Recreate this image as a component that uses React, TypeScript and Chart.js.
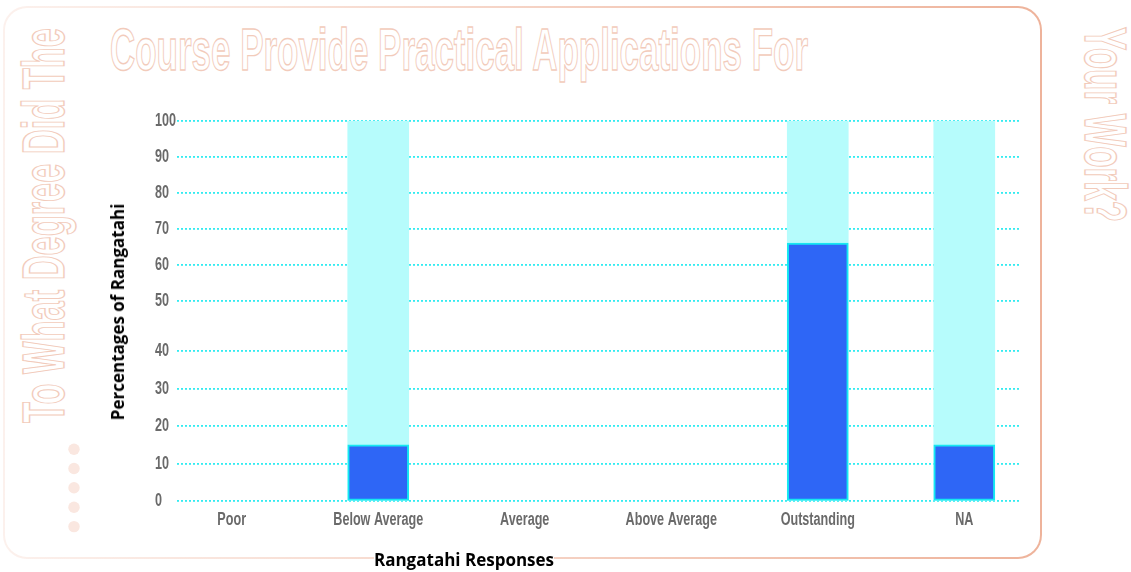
import React, { useEffect, useRef } from 'react';
import { Chart, registerables, LinearScale } from 'chart.js';
import { renderText } from 'chart.js/helpers';

// ---- data ----
const categories = ['Poor', 'Below Average', 'Average', 'Above Average', 'Outstanding', 'NA'];
const responsePercentages: (number | null)[] = [null, 15, null, null, 66, 15];
const trackValues: (number | null)[] = [null, 100, null, null, 100, 100];
const yTickValues = [0, 10, 20, 30, 40, 50, 60, 70, 80, 90, 100];

const titleText = 'Course Provide Practical Applications For';
const leftSideText = 'To What Degree Did The';
const rightSideText = 'Your Work?';
const xAxisTitle = 'Rangatahi Responses';
const yAxisTitle = 'Percentages of Rangatahi';

// ---- y axis with a taller 40–50 band ----
const BREAK_VALUES = [0, 40, 50, 100];
const BREAK_FRACTIONS = [0, 0.395, 0.527, 1];

function valueToFraction(v: number): number {
  if (v <= BREAK_VALUES[0]) return BREAK_FRACTIONS[0];
  for (let i = 1; i < BREAK_VALUES.length; i++) {
    if (v <= BREAK_VALUES[i]) {
      const t = (v - BREAK_VALUES[i - 1]) / (BREAK_VALUES[i] - BREAK_VALUES[i - 1]);
      return BREAK_FRACTIONS[i - 1] + t * (BREAK_FRACTIONS[i] - BREAK_FRACTIONS[i - 1]);
    }
  }
  return 1 + (v - 100) / 100;
}

function fractionToValue(f: number): number {
  for (let i = 1; i < BREAK_FRACTIONS.length; i++) {
    if (f <= BREAK_FRACTIONS[i]) {
      const t = (f - BREAK_FRACTIONS[i - 1]) / (BREAK_FRACTIONS[i] - BREAK_FRACTIONS[i - 1]);
      return BREAK_VALUES[i - 1] + t * (BREAK_VALUES[i] - BREAK_VALUES[i - 1]);
    }
  }
  return 100;
}

// tick labels are drawn horizontally condensed (narrow display face)
const LABEL_SCALE_X = 0.7;

function drawCondensedLabels(scale: any, chartArea: any) {
  if (!scale.options.ticks.display) return;
  const ctx: CanvasRenderingContext2D = scale.ctx;
  const items = scale.getLabelItems(chartArea);
  for (const item of items) {
    const opts = item.options || {};
    const [tx, ty] = opts.translation || [0, 0];
    ctx.save();
    ctx.translate(tx, ty);
    ctx.scale(LABEL_SCALE_X, 1);
    renderText(ctx, item.label, 0, item.textOffset, item.font, { ...opts, translation: undefined });
    ctx.restore();
  }
}

class NarrowLinearScale extends LinearScale {
  static id = 'narrowLinear';
  static defaults = { ...(LinearScale as any).defaults };
  drawLabels(chartArea: any) {
    drawCondensedLabels(this, chartArea);
  }
}

class BrokenLinearScale extends NarrowLinearScale {
  static id = 'brokenLinear';
  static defaults = { ...(LinearScale as any).defaults };
  getPixelForValue(value: number) {
    if (value === null || value === undefined || isNaN(value)) return NaN;
    return this.getPixelForDecimal(valueToFraction(value));
  }
  getValueForPixel(pixel: number) {
    return fractionToValue(this.getDecimalForPixel(pixel));
  }
}

Chart.register(...registerables, NarrowLinearScale as any, BrokenLinearScale as any);

const TICK_FONT = { family: "'Liberation Sans', Arial, sans-serif", size: 18, weight: 'bold' as const };
const TICK_COLOR = '#6a6a6a';
const DECOR_STROKE = '#f2cbbb';
const DOT_ROWS = [449.3, 468.5, 487.8, 507.2, 526.6];

function RangatahiChart() {
  const canvasRef = useRef<HTMLCanvasElement | null>(null);

  useEffect(() => {
    const canvas = canvasRef.current;
    if (!canvas) return;

    const answered = categories
      .map((_, i) => ({ x: i, y: responsePercentages[i] }))
      .filter((p) => p.y !== null);
    const track = categories
      .map((_, i) => ({ x: i, y: trackValues[i] }))
      .filter((p) => p.y !== null);

    const chart = new Chart(canvas, {
      type: 'bar',
      data: {
        datasets: [
          {
            label: 'Percentages of Rangatahi',
            data: answered as any,
            backgroundColor: '#2e66f6',
            borderColor: '#16e8f1',
            borderWidth: 2,
            borderSkipped: false,
            barThickness: 61,
            grouped: false,
          },
          {
            label: 'Track',
            data: track as any,
            backgroundColor: '#b6fcfc',
            borderWidth: 0,
            barThickness: 61,
            grouped: false,
          },
        ],
      },
      options: {
        animation: false,
        responsive: false,
        maintainAspectRatio: false,
        layout: { padding: { left: 155, top: 120.7, right: 112, bottom: 33.7 } },
        plugins: {
          legend: { display: false },
          tooltip: { enabled: false },
          title: { display: false },
        },
        scales: {
          x: {
            type: 'narrowLinear',
            offset: false,
            min: -0.3735,
            max: 5.3735,
            grid: { display: false, offset: false, drawTicks: false },
            border: { display: false },
            afterBuildTicks: (axis: any) => {
              axis.ticks = categories.map((_, i) => ({ value: i }));
            },
            afterFit: (scale: any) => {
              scale.height = 37;
            },
            ticks: {
              padding: 8,
              autoSkip: false,
              maxRotation: 0,
              color: TICK_COLOR,
              font: TICK_FONT,
              callback: (value: any) => categories[value as number] ?? '',
            },
          },
          y: {
            type: 'brokenLinear',
            min: 0,
            max: 100,
            afterBuildTicks: (axis: any) => {
              axis.ticks = yTickValues.map((v) => ({ value: v }));
            },
            afterFit: (scale: any) => {
              scale.width = 22;
            },
            grid: { color: '#33ecf1', lineWidth: 1.8, drawTicks: false },
            border: { display: false, dash: [2, 2] },
            ticks: {
              crossAlign: 'far',
              padding: 0,
              color: TICK_COLOR,
              font: TICK_FONT,
            },
          },
        } as any,
      },
    });

    return () => chart.destroy();
  }, []);

  return (
    <div style={{ position: 'fixed', left: 0, top: 0, width: 1131, height: 572, background: '#ffffff', overflow: 'hidden' }}>
      {/* card outline: faint on the left, warmer on the right */}
      <div
        style={{
          position: 'absolute',
          left: 3,
          top: 6,
          width: 1039,
          height: 553,
          borderRadius: 24,
          background: 'linear-gradient(90deg, #fcf1ed 0%, #f6d6c9 45%, #eeb39b 100%)',
        }}
      >
        <div style={{ position: 'absolute', inset: 2, borderRadius: 22, background: '#ffffff' }} />
      </div>

      <svg width={1131} height={572} style={{ position: 'absolute', left: 0, top: 0 }}>
        <g
          fill="none"
          stroke={DECOR_STROKE}
          strokeWidth={1.4}
          fontFamily="'Liberation Sans', Arial, sans-serif"
          fontWeight="bold"
          fontSize={59}
        >
          <text x={110} y={70} textLength={698} lengthAdjust="spacingAndGlyphs">
            {titleText}
          </text>
          <text transform="translate(64,423) rotate(-90)" textLength={395} lengthAdjust="spacingAndGlyphs">
            {leftSideText}
          </text>
          <text transform="translate(1085,27) rotate(90)" textLength={195} lengthAdjust="spacingAndGlyphs">
            {rightSideText}
          </text>
        </g>
        {DOT_ROWS.map((cy) => (
          <circle key={cy} cx={74} cy={cy} r={5.7} fill="#fae7e0" />
        ))}
      </svg>

      <canvas
        ref={canvasRef}
        width={1131}
        height={572}
        style={{ position: 'absolute', left: 0, top: 0, width: 1131, height: 572 }}
      />

      <div
        style={{
          position: 'absolute',
          left: 118,
          top: 311.5,
          transform: 'translate(-50%, -50%) rotate(-90deg)',
          whiteSpace: 'nowrap',
          fontFamily: "'Open Sans', sans-serif",
          fontWeight: 700,
          fontSize: 17,
          lineHeight: '20px',
          color: '#000000',
        }}
      >
        {yAxisTitle}
      </div>

      <div
        style={{
          position: 'absolute',
          left: 464,
          top: 560,
          transform: 'translate(-50%, -50%)',
          whiteSpace: 'nowrap',
          fontFamily: "'Open Sans', sans-serif",
          fontWeight: 700,
          fontSize: 17,
          lineHeight: '20px',
          color: '#000000',
          background: '#ffffff',
        }}
      >
        {xAxisTitle}
      </div>
    </div>
  );
}

export default function App() {
  return <RangatahiChart />;
}
